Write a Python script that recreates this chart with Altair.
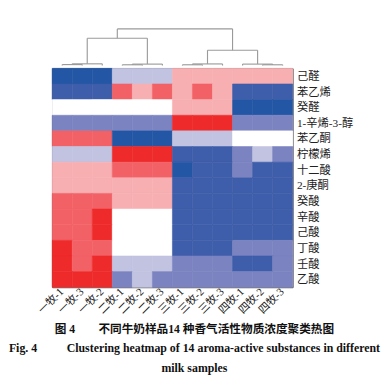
import altair as alt
import pandas as pd

samples = ["一牧-1", "一牧-3", "一牧-2", "二牧-1", "二牧-2", "二牧-3",
           "三牧-1", "三牧-2", "三牧-3", "四牧-1", "四牧-2", "四牧-3"]
compounds = ["己醛", "苯乙烯", "癸醛", "1-辛烯-3-醇", "苯乙酮", "柠檬烯", "十二酸",
             "2-庚酮", "癸酸", "辛酸", "己酸", "丁酸", "壬酸", "乙酸"]

# estimated standardized concentration (z-score like) per compound, in sample order
z_hexanal      = [-2.0, -2.0, -2.0, -0.5, -0.5, -0.5, 0.5, 0.5, 0.5, 0.5, 0.5, 0.5]
z_styrene      = [-1.5, -1.5, -1.5, 1.0, 0.5, 1.0, 0.5, 1.0, 0.5, -1.5, -1.5, -1.5]
z_decanal      = [0.0, 0.0, 0.0, 0.0, 0.0, 0.0, 0.5, 0.5, 0.5, -2.0, -2.0, -2.0]
z_octenol      = [-1.0, -1.0, -1.0, -1.0, -1.0, -1.0, 1.5, 1.5, 1.5, -1.0, -1.0, -1.0]
z_acetophenone = [1.0, 1.0, 1.0, -2.0, -2.0, -2.0, -0.5, -0.5, -0.5, 0.0, 0.0, 0.0]
z_limonene     = [-0.5, -0.5, -0.5, 1.5, 1.5, 1.5, -1.5, -1.5, -1.5, -1.0, -0.5, -1.0]
z_lauric       = [0.5, 0.5, 0.5, 1.0, 1.0, 1.0, -2.0, -1.5, -1.5, -1.0, -1.5, -1.5]
z_heptanone    = [0.5, 0.5, 0.5, 0.5, 0.5, 0.5, -1.5, -1.5, -1.5, -1.5, -1.5, -1.5]
z_decanoic     = [1.0, 1.0, 1.0, 0.5, 0.5, 0.5, -1.5, -1.5, -1.5, -1.5, -1.5, -1.5]
z_octanoic     = [1.0, 1.0, 1.5, 0.0, 0.0, 0.0, -1.5, -1.5, -1.5, -1.5, -1.5, -1.5]
z_hexanoic     = [1.0, 1.0, 1.5, 0.0, 0.0, 0.0, -1.5, -1.5, -1.5, -1.5, -1.5, -1.5]
z_butanoic     = [1.5, 1.0, 1.0, 0.0, 0.0, 0.0, -1.5, -1.5, -1.5, -1.0, -1.0, -1.0]
z_nonanoic     = [1.5, 1.0, 1.5, -0.5, -0.5, -0.5, -1.0, -1.0, -1.0, -1.5, -1.5, -1.0]
z_acetic       = [1.5, 1.5, 1.5, -1.0, -0.5, -1.0, -1.0, -1.0, -1.0, -1.0, -1.0, -1.0]

z_rows = [z_hexanal, z_styrene, z_decanal, z_octenol, z_acetophenone, z_limonene,
          z_lauric, z_heptanone, z_decanoic, z_octanoic, z_hexanoic, z_butanoic,
          z_nonanoic, z_acetic]

# column dendrogram: (child_a, child_b, height); leaves 0..11, new nodes from 12
merges = [
    (0, 1, 1.0), (12, 2, 1.8),
    (3, 4, 0.8), (14, 5, 1.5),
    (13, 15, 29.0),
    (6, 7, 0.8), (17, 8, 1.7),
    (10, 11, 0.8), (9, 19, 1.5),
    (18, 20, 16.3),
    (16, 21, 39.0),
]

color_bins = [-1.75, -1.25, -0.75, -0.25, 0.25, 0.75, 1.25]
color_range = ["#2356A4", "#3E5DAA", "#7B83C1", "#C1C3E1", "#FFFFFF",
               "#F7AFB2", "#F26166", "#EE2A2A"]

heat_rows = []
for comp, vals in zip(compounds, z_rows):
    for s, v in zip(samples, vals):
        heat_rows.append({"compound": comp, "sample": s, "z": v})
heat_df = pd.DataFrame(heat_rows)

# build dendrogram segments from the tree
pos = {i: i + 0.5 for i in range(len(samples))}
hgt = {i: 0.0 for i in range(len(samples))}
segs = []
node = len(samples)
for a, b, h in merges:
    for c in (a, b):
        segs.append({"x": pos[c], "y": hgt[c], "x2": pos[c], "y2": h})
    segs.append({"x": pos[a], "y": h, "x2": pos[b], "y2": h})
    pos[node] = (pos[a] + pos[b]) / 2
    hgt[node] = h
    node += 1
seg_df = pd.DataFrame(segs)

FONT = "Liberation Serif, Noto Sans CJK SC"
W = 256

dendro = alt.Chart(seg_df).mark_rule(color="#9a9a9a", strokeWidth=1.2).encode(
    x=alt.X("x:Q", scale=alt.Scale(domain=[0, len(samples)], nice=False, zero=False), axis=None),
    x2="x2:Q",
    y=alt.Y("y:Q", scale=alt.Scale(domain=[0, 39], nice=False), axis=None),
    y2="y2:Q",
).properties(width=W, height=39, view=alt.ViewBackground(stroke="transparent"))

color_scale = alt.Scale(type="threshold", domain=color_bins, range=color_range)

heat = alt.Chart(heat_df).mark_rect(strokeWidth=0.6).encode(
    x=alt.X("sample:N", sort=samples, scale=alt.Scale(paddingInner=0, paddingOuter=0),
            axis=alt.Axis(title=None, orient="bottom", labelAngle=315, labelAlign="right",
                          labelBaseline="middle", labelPadding=3, ticks=False, domain=False,
                          labelFont=FONT, labelFontSize=11.5, labelColor="#222")),
    y=alt.Y("compound:N", sort=compounds, scale=alt.Scale(paddingInner=0, paddingOuter=0),
            axis=alt.Axis(title=None, orient="right", ticks=False, domain=False,
                          labelPadding=4, labelFont=FONT, labelFontSize=12, labelColor="#222")),
    color=alt.Color("z:Q", scale=color_scale, legend=None),
    stroke=alt.Stroke("z:Q", scale=color_scale, legend=None),
).properties(width=W, height=233)

chart = alt.vconcat(dendro, heat, spacing=0).properties(
    padding={"left": 0, "top": 8, "right": 0, "bottom": 2},
    title=alt.TitleParams(
        text="图 4\u2003\u2003不同牛奶样品14 种香气活性物质浓度聚类热图",
        subtitle=["Fig. 4\u2003\u2003\u2002Clustering heatmap of 14 aroma-active substances in different",
                  "milk samples"],
        orient="bottom", anchor="middle", offset=8,
        font=FONT, fontSize=12.4, fontWeight="bold", color="#111",
        subtitleFont=FONT, subtitleFontSize=12.6, subtitleFontWeight="bold",
        subtitleColor="#111", subtitlePadding=8, subtitleLineHeight=21,
    ),
).configure_view(stroke="#444", strokeWidth=1)

chart.save("out.html", embed_options={"renderer": "svg", "actions": False})
